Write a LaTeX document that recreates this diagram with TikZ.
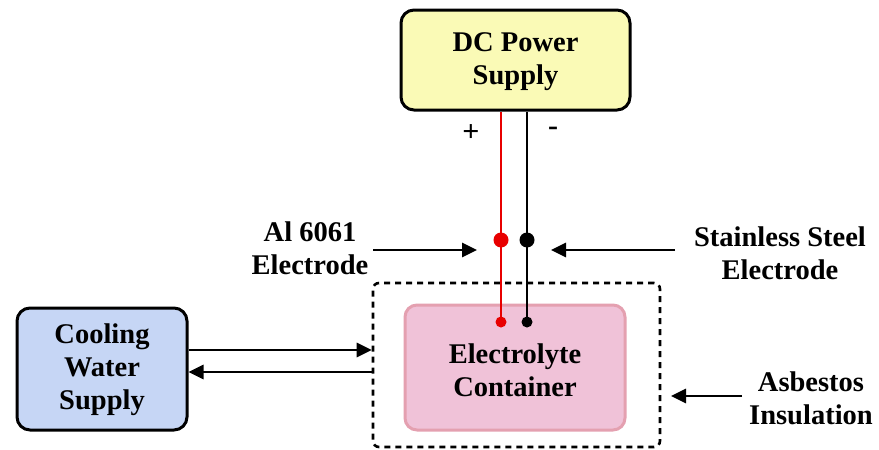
\documentclass[tikz,border=0pt]{standalone}
\usepackage{fontspec}
\setmainfont{Liberation Serif}
\usetikzlibrary{arrows.meta}
\definecolor{dcyel}{RGB}{250,250,182}
\definecolor{coolblue}{RGB}{198,214,245}
\definecolor{pinkfill}{RGB}{240,194,216}
\definecolor{pinkedge}{RGB}{228,160,176}
\definecolor{wirered}{RGB}{232,0,0}
\tikzset{
  lbl/.style={align=center,font=\bfseries\fontsize{28.5}{33}\selectfont,inner sep=0pt},
  box/.style={draw=black,line width=3pt,rounded corners=13pt,inner sep=0pt},
  arr/.style={line width=2.8pt,-{Triangle[length=15pt,width=14pt]}},
  bigdot/.style={circle,inner sep=0pt,minimum size=15pt},
  smalldot/.style={circle,inner sep=0pt,minimum size=11pt},
  wire/.style={line width=2.5pt}
}
\begin{document}
\begin{tikzpicture}[x=1pt,y=-1pt]
\useasboundingbox (0,0) rectangle (879,450);
% boxes
\node[box,fill=dcyel,minimum width=229pt,minimum height=100pt] (dc) at (515.5,60) {};
\node[lbl] (dct) at (515.5,62) {DC Power\\Supply};
\node[draw=black,line width=2.6pt,dash pattern=on 6pt off 5pt,rounded corners=6pt,minimum width=287pt,minimum height=164pt] (ins) at (516.5,365) {};
\node[draw=pinkedge,fill=pinkfill,line width=3pt,rounded corners=12pt,minimum width=220pt,minimum height=125pt] (ec) at (515,367.5) {};
\node[lbl] (ect) at (515,370) {Electrolyte\\Container};
\node[box,fill=coolblue,minimum width=170pt,minimum height=122pt] (cool) at (102,369) {};
\node[lbl] (coolt) at (102,370) {Cooling\\Water\\Supply};
% dots
\node[bigdot,fill=wirered] (rd1) at (501,240) {};
\node[bigdot,fill=black] (bd1) at (527,240) {};
\node[smalldot,fill=wirered] (rd2) at (501,322) {};
\node[smalldot,fill=black] (bd2) at (527,322) {};
% wires
\draw[wire,wirered] (rd1 |- dc.south) -- (rd2.center);
\draw[wire,black] (bd1 |- dc.south) -- (bd2.center);
% polarity
\node[lbl,font=\bfseries\fontsize{30}{33}\selectfont] (plus) at (471,133) {+};
\node[lbl,font=\bfseries\fontsize{30}{33}\selectfont] (minus) at (553,131) {-};
% labels
\node[lbl] (al) at (310,248) {Al 6061\\Electrode};
\node[lbl] (ss) at (780,253) {Stainless Steel\\Electrode};
\node[lbl] (asb) at (811,398) {Asbestos\\Insulation};
% arrows
\coordinate (alS) at (373,250);
\coordinate (alE) at (477,250);
\draw[arr] (alS) -- (alE);
\coordinate (ssS) at (675,250);
\coordinate (ssE) at (551,250);
\draw[arr] (ssS) -- (ssE);
\coordinate (asS) at (742,396);
\coordinate (asE) at (671,396);
\draw[arr] (asS) -- (asE);
\draw[arr] (cool.east |- 0,350) -- (ins.west |- 0,350);
\draw[arr] (ins.west |- 0,372) -- (cool.east |- 0,372);
\end{tikzpicture}
\end{document}
